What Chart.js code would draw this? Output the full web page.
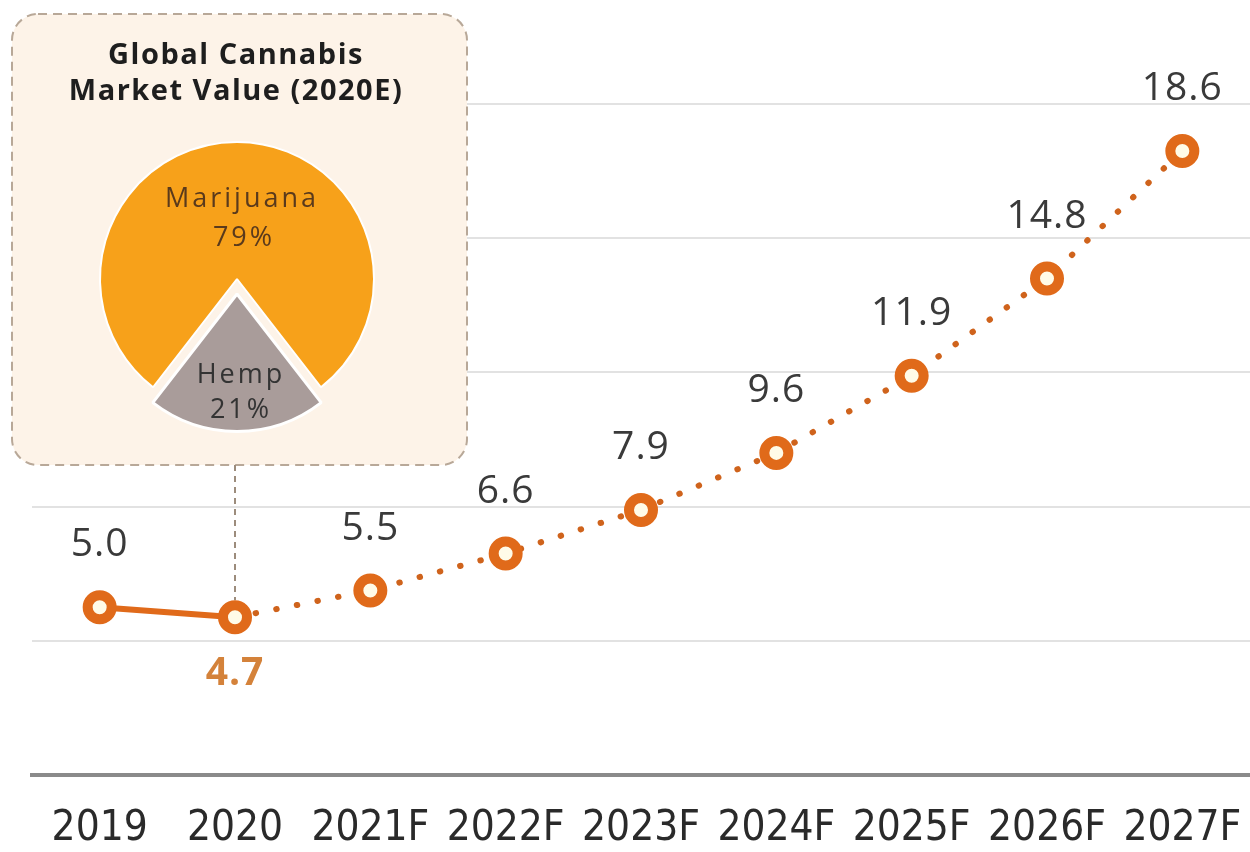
<!DOCTYPE html>
<html>
<head>
<meta charset="utf-8">
<script src="https://cdn.jsdelivr.net/npm/chart.js@4/dist/chart.umd.min.js"></script>
<style>
  html, body { margin: 0; padding: 0; background: #ffffff; }
  #wrap { position: relative; width: 1250px; height: 852px; }
  #main { position: absolute; left: 0; top: 0; }
  #pie { position: absolute; left: 77px; top: 119px; }
</style>
</head>
<body>
<div id="wrap">
  <canvas id="main" width="1250" height="852"></canvas>
  <canvas id="pie" width="320" height="340"></canvas>
</div>
<script>
// ---- data ----
const years = ['2019', '2020', '2021F', '2022F', '2023F', '2024F', '2025F', '2026F', '2027F'];
const marketValues = [5.0, 4.7, 5.5, 6.6, 7.9, 9.6, 11.9, 14.8, 18.6];
const valueLabels = ['5.0', '4.7', '5.5', '6.6', '7.9', '9.6', '11.9', '14.8', '18.6'];
const pieLabels = ['Marijuana', 'Hemp'];
const pieValues = [79, 21];
const pieValueLabels = ['79%', '21%'];
const insetTitle = ['Global Cannabis', 'Market Value (2020E)'];
const highlightIndex = 1; // 2020 (actual, estimate shown in inset)

const ORANGE = '#e06a1a';

// inset box + connector + title, drawn under the data
const insetPlugin = {
  id: 'inset',
  beforeDatasetsDraw(chart) {
    const ctx = chart.ctx;
    ctx.save();
    ctx.beginPath();
    ctx.roundRect(12, 14, 455, 451, 26);
    ctx.fillStyle = '#fdf3e8';
    ctx.fill();
    ctx.setLineDash([9, 6]);
    ctx.lineWidth = 2;
    ctx.strokeStyle = '#b8a898';
    ctx.stroke();
    const p = chart.getDatasetMeta(0).data[highlightIndex];
    ctx.beginPath();
    ctx.setLineDash([6, 5]);
    ctx.strokeStyle = '#9c8c7c';
    ctx.moveTo(p.x, 465);
    ctx.lineTo(p.x, p.y - 17);
    ctx.stroke();
    ctx.setLineDash([]);
    ctx.fillStyle = '#1e1e1e';
    ctx.font = 'bold 29px "Open Sans", sans-serif';
    ctx.letterSpacing = '1.5px';
    ctx.textAlign = 'center';
    ctx.textBaseline = 'middle';
    ctx.fillText(insetTitle[0], 236, 56);
    ctx.fillText(insetTitle[1], 236, 92);
    ctx.restore();
  }
};

// value labels
const valueLabelPlugin = {
  id: 'valueLabels',
  afterDatasetsDraw(chart) {
    const ctx = chart.ctx;
    const pts = chart.getDatasetMeta(0).data;
    ctx.save();
    ctx.textAlign = 'center';
    ctx.textBaseline = 'middle';
    ctx.letterSpacing = '1px';
    pts.forEach((pt, i) => {
      if (i === highlightIndex) {
        ctx.font = 'bold 39px "Open Sans", sans-serif';
        ctx.fillStyle = '#d4823a';
        ctx.fillText(valueLabels[i], pt.x, pt.y + 57);
      } else {
        ctx.font = '39px "Open Sans", sans-serif';
        ctx.fillStyle = '#3a3a3a';
        ctx.fillText(valueLabels[i], pt.x, pt.y - 62);
      }
    });
    ctx.restore();
  }
};

new Chart(document.getElementById('main'), {
  type: 'line',
  data: {
    labels: years,
    datasets: [{
      data: marketValues,
      borderColor: ORANGE,
      borderWidth: 6,
      borderCapStyle: 'round',
      pointRadius: 12,
      pointBorderWidth: 10,
      pointBackgroundColor: '#fffbe8',
      pointBorderColor: ORANGE,
      tension: 0,
      segment: {
        borderDash: ctx => ctx.p0DataIndex >= 1 ? [0.5, 20.5] : undefined,
        borderColor: ctx => ctx.p0DataIndex >= 1 ? '#cf631c' : ORANGE
      }
    }]
  },
  options: {
    responsive: false,
    animation: false,
    devicePixelRatio: 1,
    layout: { autoPadding: false, padding: { left: 32, right: 0, top: 104, bottom: 0 } },
    plugins: { legend: { display: false }, tooltip: { enabled: false } },
    scales: {
      x: {
        offset: true,
        grid: { display: false, drawTicks: false },
        border: { display: true, color: '#8a8a8a', width: 4 },
        ticks: {
          color: '#2a2a2a',
          padding: 29,
          font: { family: '"Liberation Sans Narrow", "DejaVu Sans Condensed", "Open Sans", sans-serif', size: 42 },
          maxRotation: 0,
          autoSkip: false
        },
        afterFit(scale) { scale.height = 77; scale.paddingLeft = 0; scale.paddingRight = 0; }
      },
      y: {
        min: 0,
        max: 20,
        ticks: { display: false, stepSize: 4 },
        grid: { color: '#e2e2e2', lineWidth: 2, drawTicks: false },
        border: { display: false },
        afterFit(scale) { scale.width = 0; scale.paddingTop = 0; scale.paddingBottom = 0; }
      }
    }
  },
  plugins: [insetPlugin, valueLabelPlugin]
});

// inset pie labels
const pieLabelPlugin = {
  id: 'pieLabels',
  afterDraw(chart) {
    const ctx = chart.ctx;
    const cx = 160;
    const cy = 160;
    ctx.save();
    ctx.textAlign = 'center';
    ctx.textBaseline = 'middle';
    ctx.font = '27px "Open Sans", sans-serif';
    ctx.letterSpacing = '3px';
    ctx.fillStyle = '#5a3a1c';
    ctx.fillText(pieLabels[0], cx + 5, cy - 80);
    ctx.fillText(pieValueLabels[0], cx + 7, cy - 41);
    ctx.fillStyle = '#333333';
    ctx.fillText(pieLabels[1], cx + 4, cy + 96);
    ctx.fillText(pieValueLabels[1], cx + 4, cy + 131);
    ctx.restore();
  }
};

new Chart(document.getElementById('pie'), {
  type: 'pie',
  data: {
    labels: pieLabels,
    datasets: [{
      data: pieValues,
      backgroundColor: ['#f7a11a', '#a99c9a'],
      borderColor: '#ffffff',
      borderWidth: [2, 3],
      offset: [0, 60]
    }]
  },
  options: {
    responsive: false,
    animation: false,
    devicePixelRatio: 1,
    radius: 137,
    rotation: -142.2,
    layout: { autoPadding: false, padding: { top: 0, left: 0, right: 0, bottom: 20 } },
    plugins: { legend: { display: false }, tooltip: { enabled: false } }
  },
  plugins: [pieLabelPlugin]
});
</script>
</body>
</html>
